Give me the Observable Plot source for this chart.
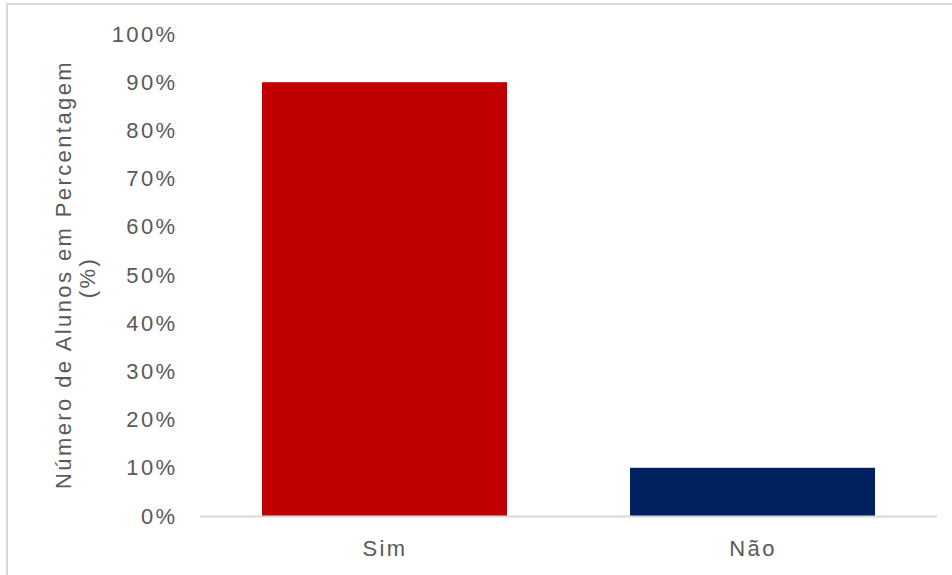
<!DOCTYPE html>
<html>
<head>
<meta charset="utf-8">
<script src="https://cdn.jsdelivr.net/npm/d3@7"></script>
<script src="https://cdn.jsdelivr.net/npm/@observablehq/plot@0.6"></script>
<style>
  html, body { margin: 0; padding: 0; background: #fff; overflow: hidden; }
  #wrap { position: relative; width: 952px; height: 575px; }
  #border { position: absolute; left: 6px; top: 3px; width: 980px; height: 600px;
            border-left: 2.5px solid #d9d9d9; border-top: 2.5px solid #d9d9d9; box-sizing: border-box; }
  #chart { position: absolute; left: 0; top: 0; }
  #chart svg text { letter-spacing: 2.4px; }
</style>
</head>
<body>
<div id="wrap"><div id="border"></div><div id="chart"></div></div>
<script>
const categories = ["Sim", "Não"];
const values = [0.90, 0.10];
const colors = ["#C00000", "#002060"];
const yTicks = [0, 0.1, 0.2, 0.3, 0.4, 0.5, 0.6, 0.7, 0.8, 0.9, 1.0];
const yLabelLine1 = "Número de Alunos em Percentagem";
const yLabelLine2 = "(%)";

const data = categories.map((c, i) => ({category: c, value: values[i], color: colors[i]}));

const chart = Plot.plot({
  width: 952,
  height: 575,
  marginLeft: 200,
  marginRight: 15,
  marginTop: 34,
  marginBottom: 59,
  style: {fontFamily: "'Liberation Sans', Arial, sans-serif", fontSize: "22px", color: "#595959", background: "transparent"},
  x: {domain: categories, paddingInner: 0.334, paddingOuter: 0.167, label: null},
  y: {domain: [0, 1], label: null},
  marks: [
    Plot.barY(data, {x: "category", y: "value", fill: "color"}),
    Plot.ruleY([0], {stroke: "#d9d9d9", strokeWidth: 2}),
    Plot.axisY({ticks: yTicks, tickFormat: d => Math.round(d * 100) + "%", tickSize: 0, tickPadding: 23, fill: "#595959", fontSize: 22, label: null}),
    Plot.axisX({tickSize: 0, tickPadding: 24, fill: "#595959", fontSize: 22, label: null}),
    Plot.text([yLabelLine1], {text: d => d, frameAnchor: "left", textAnchor: "middle", rotate: -90, dx: -130, dy: -1, lineAnchor: "bottom", fill: "#595959", fontSize: 22}),
    Plot.text([yLabelLine2], {text: d => d, frameAnchor: "left", textAnchor: "middle", rotate: -90, dx: -106, dy: 2, lineAnchor: "bottom", fill: "#595959", fontSize: 22})
  ]
});
document.getElementById("chart").appendChild(chart);
</script>
</body>
</html>
